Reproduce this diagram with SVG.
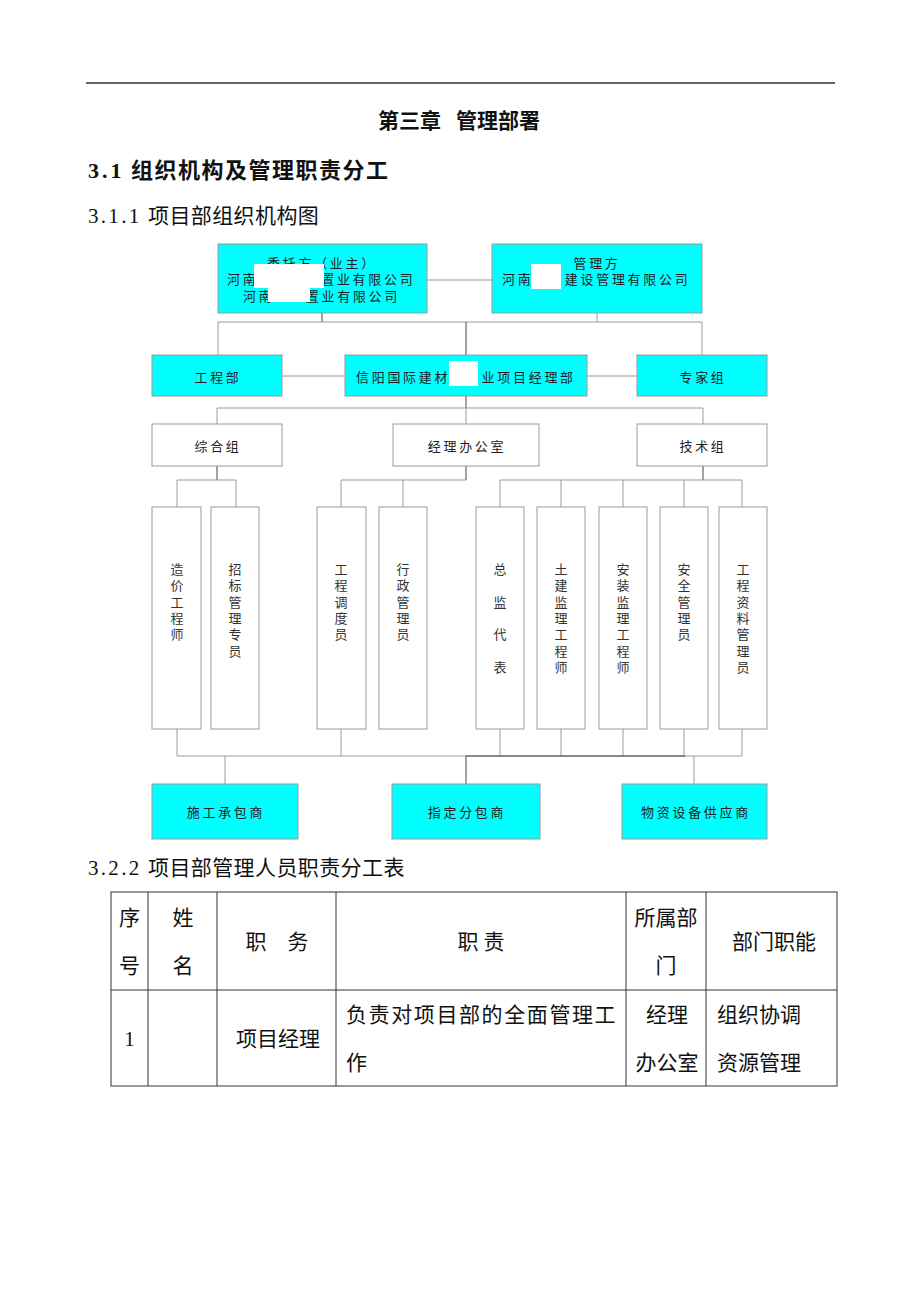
<svg xmlns="http://www.w3.org/2000/svg" width="920" height="1302" viewBox="0 0 920 1302">
<style>
.h{font-family:"Liberation Serif","Noto Sans CJK SC",serif;fill:#111;dominant-baseline:central}
.bx{stroke:#9a9a9a;stroke-width:1}
.cy{fill:#00ffff}
.wh{fill:#fff}
.t{font-family:"Noto Sans CJK SC",sans-serif;font-size:13px;fill:#222;letter-spacing:2.7px;text-anchor:middle;dominant-baseline:central}
.ts{font-family:"Noto Sans CJK SC",sans-serif;font-size:13px;fill:#222;letter-spacing:2.7px;dominant-baseline:central}
.v{font-family:"Noto Sans CJK SC",sans-serif;font-size:13px;fill:#333;text-anchor:middle;dominant-baseline:central}
.ln{stroke:#a096a0;stroke-width:1;fill:none}
.dk{stroke:#444;stroke-width:1;fill:none}
.red{fill:#fff}
.tb{font-family:"Liberation Serif","Noto Sans CJK SC",serif;font-size:21px;fill:#111;dominant-baseline:central}
.tl{stroke:#333;stroke-width:1;fill:none}
</style>
<rect x="0" y="0" width="920" height="1302" fill="#fff"/>
<line x1="86" y1="83" x2="835" y2="83" stroke="#333" stroke-width="1.5"/>
<text class="h" y="121" font-size="21" font-weight="bold"><tspan x="378">第三章</tspan><tspan x="456">管理部署</tspan></text>
<text class="h" y="170" font-size="22" font-weight="bold"><tspan x="88" letter-spacing="3">3.1</tspan><tspan x="131" letter-spacing="1.5">组织机构及管理职责分工</tspan></text>
<text class="h" y="216" font-size="21"><tspan x="88" letter-spacing="2.3">3.1.1</tspan><tspan x="148" letter-spacing="0.4">项目部组织机构图</tspan></text>

<g id="connectors">
<path class="ln" d="M427 280H492"/>
<path class="dk" d="M322 313V322"/>
<path class="ln" d="M597 313V322"/>
<path class="ln" d="M218 322H702M218 322V355M702 322V355"/>
<path class="dk" d="M466 322V355"/>
<path class="ln" d="M282 376H345M587 376H637"/>
<path class="dk" d="M466 396V408"/>
<path class="ln" d="M217 408H703M217 408V424M703 408V424M466 408V424"/>
<path class="dk" d="M217 466V480"/>
<path class="ln" d="M177 480H236M177 480V507M236 480V507"/>
<path class="dk" d="M466 466V480"/>
<path class="ln" d="M341 480H466M341 480V507M403 480V507"/>
<path class="dk" d="M703 466V480"/>
<path class="ln" d="M500 480H742M500 480V507M561 480V507M623 480V507M684 480V507M742 480V507"/>
<path class="ln" d="M177 729V756M341 729V756M500 729V756M561 729V756M623 729V756M684 729V756M742 729V756"/>
<path class="ln" d="M177 756H742M225 756V784M694 756V784"/>
<path class="dk" d="M466 756H685M466 756V784"/>
</g>

<g id="n-client">
<rect class="bx cy" x="218" y="244" width="209" height="69"/>
<text class="t" x="322" y="262">委托方（业主）</text>
<text class="ts" x="227" y="278">河南　　　　置业有限公司</text>
<text class="ts" x="243" y="295">河南　　置业有限公司</text>
<rect class="red" x="254" y="264" width="70" height="24"/>
<rect class="red" x="268" y="288" width="42" height="14"/>
</g>
<g id="n-manager">
<rect class="bx cy" x="492" y="244" width="210" height="69"/>
<text class="t" x="597" y="262">管理方</text>
<text class="ts" x="502" y="278">河南　　建设管理有限公司</text>
<rect class="red" x="531" y="264" width="30" height="25"/>
</g>

<g id="n-gcb"><rect class="bx cy" x="152" y="355" width="130" height="41"/><text class="t" x="218" y="376">工程部</text></g>
<g id="n-xmb"><rect class="bx cy" x="345" y="355" width="242" height="41"/><text class="ts" x="356" y="376">信阳国际建材　　业项目经理部</text><rect class="red" x="449" y="361" width="29" height="25"/></g>
<g id="n-zjz"><rect class="bx cy" x="637" y="355" width="130" height="41"/><text class="t" x="703" y="376">专家组</text></g>

<g id="n-zhz"><rect class="bx wh" x="152" y="424" width="130" height="42"/><text class="t" x="218" y="445">综合组</text></g>
<g id="n-jlbgs"><rect class="bx wh" x="393" y="424" width="146" height="42"/><text class="t" x="467" y="445">经理办公室</text></g>
<g id="n-jsz"><rect class="bx wh" x="637" y="424" width="130" height="42"/><text class="t" x="703" y="445">技术组</text></g>

<g id="n-zjgcs"><rect class="bx wh" x="152" y="507" width="49" height="222"/>
<text class="v"><tspan x="177" y="568">造</tspan><tspan x="177" dy="16.3">价</tspan><tspan x="177" dy="16.3">工</tspan><tspan x="177" dy="16.3">程</tspan><tspan x="177" dy="16.3">师</tspan></text></g>
<g id="n-zbglzy"><rect class="bx wh" x="211" y="507" width="48" height="222"/>
<text class="v"><tspan x="235" y="568">招</tspan><tspan x="235" dy="16.3">标</tspan><tspan x="235" dy="16.3">管</tspan><tspan x="235" dy="16.3">理</tspan><tspan x="235" dy="16.3">专</tspan><tspan x="235" dy="16.3">员</tspan></text></g>
<g id="n-gcddy"><rect class="bx wh" x="317" y="507" width="49" height="222"/>
<text class="v"><tspan x="341" y="568">工</tspan><tspan x="341" dy="16.3">程</tspan><tspan x="341" dy="16.3">调</tspan><tspan x="341" dy="16.3">度</tspan><tspan x="341" dy="16.3">员</tspan></text></g>
<g id="n-xzgly"><rect class="bx wh" x="379" y="507" width="48" height="222"/>
<text class="v"><tspan x="403" y="568">行</tspan><tspan x="403" dy="16.3">政</tspan><tspan x="403" dy="16.3">管</tspan><tspan x="403" dy="16.3">理</tspan><tspan x="403" dy="16.3">员</tspan></text></g>
<g id="n-zjdb"><rect class="bx wh" x="476" y="507" width="48" height="222"/>
<text class="v"><tspan x="500" y="568">总</tspan><tspan x="500" dy="32.7">监</tspan><tspan x="500" dy="32.7">代</tspan><tspan x="500" dy="32.7">表</tspan></text></g>
<g id="n-tjjl"><rect class="bx wh" x="537" y="507" width="48" height="222"/>
<text class="v"><tspan x="561" y="568">土</tspan><tspan x="561" dy="16.3">建</tspan><tspan x="561" dy="16.3">监</tspan><tspan x="561" dy="16.3">理</tspan><tspan x="561" dy="16.3">工</tspan><tspan x="561" dy="16.3">程</tspan><tspan x="561" dy="16.3">师</tspan></text></g>
<g id="n-azjl"><rect class="bx wh" x="599" y="507" width="48" height="222"/>
<text class="v"><tspan x="623" y="568">安</tspan><tspan x="623" dy="16.3">装</tspan><tspan x="623" dy="16.3">监</tspan><tspan x="623" dy="16.3">理</tspan><tspan x="623" dy="16.3">工</tspan><tspan x="623" dy="16.3">程</tspan><tspan x="623" dy="16.3">师</tspan></text></g>
<g id="n-aqgly"><rect class="bx wh" x="660" y="507" width="48" height="222"/>
<text class="v"><tspan x="684" y="568">安</tspan><tspan x="684" dy="16.3">全</tspan><tspan x="684" dy="16.3">管</tspan><tspan x="684" dy="16.3">理</tspan><tspan x="684" dy="16.3">员</tspan></text></g>
<g id="n-gczl"><rect class="bx wh" x="719" y="507" width="48" height="222"/>
<text class="v"><tspan x="743" y="568">工</tspan><tspan x="743" dy="16.3">程</tspan><tspan x="743" dy="16.3">资</tspan><tspan x="743" dy="16.3">料</tspan><tspan x="743" dy="16.3">管</tspan><tspan x="743" dy="16.3">理</tspan><tspan x="743" dy="16.3">员</tspan></text></g>

<g id="n-sgcbs"><rect class="bx cy" x="152" y="784" width="146" height="55"/><text class="t" x="226" y="811">施工承包商</text></g>
<g id="n-zdfbs"><rect class="bx cy" x="392" y="784" width="148" height="55"/><text class="t" x="467" y="811">指定分包商</text></g>
<g id="n-wzsb"><rect class="bx cy" x="622" y="784" width="145" height="55"/><text class="t" x="696" y="811">物资设备供应商</text></g>

<text class="h" y="868" font-size="21"><tspan x="88" letter-spacing="2.3">3.2.2</tspan><tspan x="148" letter-spacing="0.4">项目部管理人员职责分工表</tspan></text>

<g id="table">
<rect class="tl" x="111" y="892" width="726" height="194"/>
<path class="tl" d="M111 990H837M148 892V1086M217 892V1086M336 892V1086M626 892V1086M706 892V1086"/>
<text class="tb" x="129.5" y="918" text-anchor="middle">序</text>
<text class="tb" x="129.5" y="966" text-anchor="middle">号</text>
<text class="tb" x="183" y="918" text-anchor="middle">姓</text>
<text class="tb" x="183" y="966" text-anchor="middle">名</text>
<text class="tb" x="277" y="942" text-anchor="middle">职　务</text>
<text class="tb" x="481" y="942" text-anchor="middle">职 责</text>
<text class="tb" x="666" y="918" text-anchor="middle">所属部</text>
<text class="tb" x="666" y="966" text-anchor="middle">门</text>
<text class="tb" x="774" y="942" text-anchor="middle">部门职能</text>
<text class="tb" x="129.5" y="1039" text-anchor="middle">1</text>
<text class="tb" x="278" y="1039" text-anchor="middle">项目经理</text>
<text class="tb" x="346" y="1015" letter-spacing="1.6">负责对项目部的全面管理工</text>
<text class="tb" x="346" y="1063">作</text>
<text class="tb" x="667" y="1015" text-anchor="middle">经理</text>
<text class="tb" x="667" y="1063" text-anchor="middle">办公室</text>
<text class="tb" x="717" y="1015">组织协调</text>
<text class="tb" x="717" y="1063">资源管理</text>
</g>
</svg>
